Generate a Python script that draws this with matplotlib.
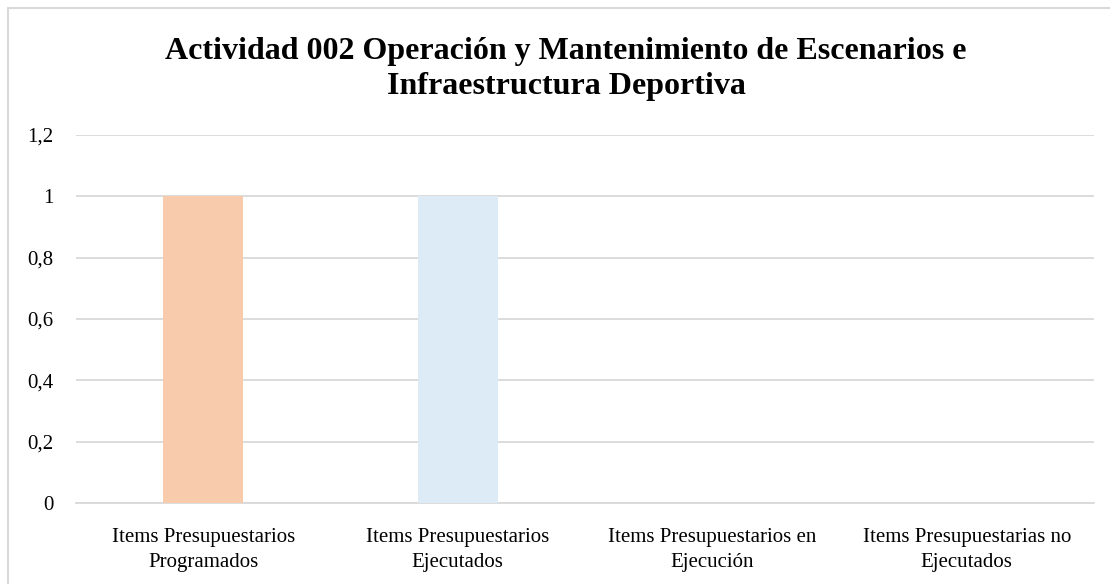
import matplotlib
matplotlib.use("Agg")
import matplotlib.pyplot as plt
from matplotlib.patches import Rectangle
from matplotlib.ticker import FuncFormatter

categories = ["Items Presupuestarios\nProgramados", "Items Presupuestarios\nEjecutados",
              "Items Presupuestarios en\nEjecución", "Items Presupuestarias no\nEjecutados"]
values = [1, 1, 0, 0]
colors = ["#F8CBAD", "#DDEBF7", "#A9D08E", "#FFE699"]
yticks = [0, 0.2, 0.4, 0.6, 0.8, 1.0, 1.2]
title = "Actividad 002 Operación y Mantenimiento de Escenarios e\nInfraestructura Deportiva"

plt.rcParams['font.family'] = ['Liberation Serif', 'DejaVu Serif']

W, H = 1110, 584
fig = plt.figure(figsize=(W/100, H/100), dpi=100)
fig.patches.append(Rectangle((8/W, -0.1), 1.2, (H-8)/H + 0.1, transform=fig.transFigure,
                             fill=False, edgecolor="#D9D9D9", linewidth=1.5))

left, right, top, bottom = 76, 1094, 135, 503
ax = fig.add_axes([left/W, 1-bottom/H, (right-left)/W, (bottom-top)/H])
x = range(len(categories))
ax.bar(x, values, width=0.314, color=colors, zorder=3)
ax.set_xlim(-0.5, len(categories)-0.5)
ax.set_ylim(0, 1.2)
ax.set_yticks(yticks)
ax.yaxis.set_major_formatter(FuncFormatter(lambda v, p: ("%g" % round(v, 1)).replace(".", ",")))
ax.set_xticks(list(x))
ax.set_xticklabels(categories, fontsize=15, linespacing=1.4)
ax.tick_params(axis='both', length=0, labelsize=15, colors="#000000")
ax.tick_params(axis='x', pad=18)
ax.tick_params(axis='y', pad=16)
ax.grid(axis='y', color="#D9D9D9", linewidth=1.3, zorder=0)
for s in ["top", "right", "left"]:
    ax.spines[s].set_visible(False)
ax.spines["bottom"].set_color("#D9D9D9")
ax.spines["bottom"].set_linewidth(1.3)

fig.text(566/W, 1-69/H, title, ha='center', va='center', fontsize=23, fontweight='bold',
         linespacing=1.3)

fig.savefig("out.png", dpi=100)
